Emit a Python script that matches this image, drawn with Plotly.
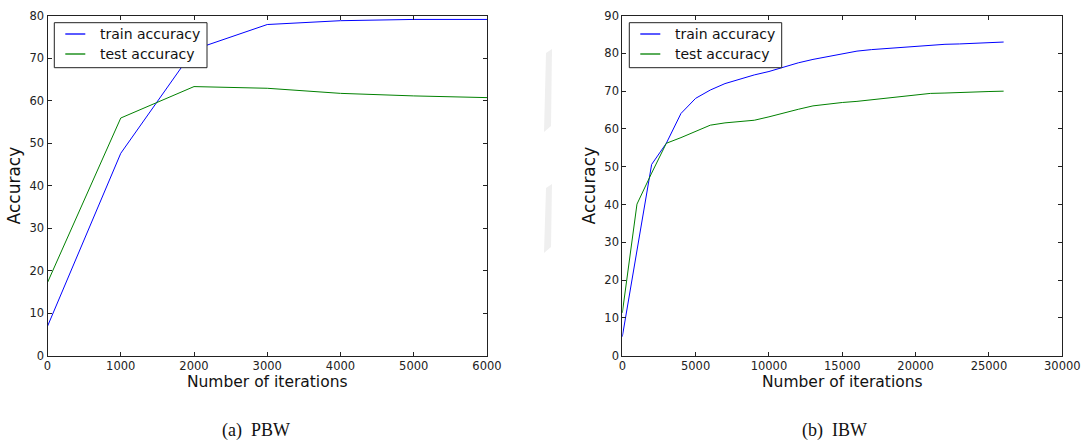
import plotly.graph_objects as go

# PBW run
pbw_iters = [0, 1000, 2000, 3000, 4000, 5000, 6000]
pbw_train = [6.9, 47.6, 72.0, 77.9, 78.8, 79.1, 79.1]
pbw_test = [17.2, 55.9, 63.3, 62.9, 61.7, 61.1, 60.7]

# IBW run
ibw_iters = [0, 1000, 2000, 3000, 4000, 5000, 6000, 7000, 8000, 9000,
             10000, 11000, 12000, 13000, 14000, 15000, 16000, 17000,
             18000, 19000, 20000, 21000, 22000, 23000, 24000, 25000, 26000]
ibw_train = [5.0, 27.8, 50.6, 56.2, 64.1, 68.1, 70.3, 72.0, 73.2, 74.3,
             75.2, 76.4, 77.5, 78.4, 79.2, 79.9, 80.6, 81.0, 81.3, 81.7,
             81.9, 82.2, 82.4, 82.5, 82.7, 82.8, 83.0]
ibw_test = [11.3, 40.1, 48.3, 56.2, 57.7, 59.3, 61.0, 61.6, 61.9, 62.3,
            63.2, 64.3, 65.2, 66.1, 66.6, 67.0, 67.3, 67.7, 68.1, 68.5,
            69.0, 69.4, 69.5, 69.7, 69.8, 69.9, 70.0]

series_names = ["train accuracy", "test accuracy"]
captions = ["(a)  PBW", "(b)  IBW"]

W, H = 1085, 441
BLUE, GREEN = "#0000ff", "#008000"
AXIS = "#222222"
SANS = "DejaVu Sans"


def px_x(v):
    return v / W


def px_y(v):
    return 1 - v / H


fig = go.Figure()

panels = [
    ("x", "y", pbw_iters, pbw_train, pbw_test),
    ("x2", "y2", ibw_iters, ibw_train, ibw_test),
]
for xa, ya, it, tr, te in panels:
    for name, vals, col in zip(series_names, [tr, te], [BLUE, GREEN]):
        fig.add_trace(go.Scatter(x=it, y=vals, mode="lines", name=name,
                                 line=dict(color=col, width=1),
                                 xaxis=xa, yaxis=ya, showlegend=False))

ydom = [px_y(355.6), px_y(15.6)]

common = dict(showline=True, linecolor=AXIS, linewidth=1, mirror="ticks",
              ticks="inside", ticklen=4, tickwidth=1, tickcolor=AXIS,
              showgrid=False, zeroline=False, automargin=False, tickformat="d",
              tickfont=dict(family=SANS, size=11.5, color="#222222"))

xtitle = dict(text="Number of iterations", font=dict(family=SANS, size=15.5, color="#111111"), standoff=2)
ytitle = dict(text="Accuracy", font=dict(family=SANS, size=17, color="#111111"), standoff=4)

fig.update_layout(
    width=W, height=H,
    margin=dict(l=0, r=0, t=0, b=0),
    paper_bgcolor="white", plot_bgcolor="white",
    xaxis=dict(domain=[px_x(47.5), px_x(487)], range=[0, 6000], dtick=1000,
               anchor="y", title=xtitle, **common),
    yaxis=dict(domain=ydom, range=[0, 80], dtick=10, anchor="x", title=ytitle, **common),
    xaxis2=dict(domain=[px_x(622.3), px_x(1062.3)], range=[0, 30000], dtick=5000,
                anchor="y2", title=xtitle, **common),
    yaxis2=dict(domain=ydom, range=[0, 90], dtick=10, anchor="x2", title=ytitle, **common),
    showlegend=False,
)

# legend boxes drawn in the upper-left corner of each panel
for left, right in [(54.3, 207.0), (629.3, 781.7)]:
    fig.add_shape(type="rect", xref="paper", yref="paper",
                  x0=px_x(left), x1=px_x(right), y0=px_y(67.7), y1=px_y(22.7),
                  fillcolor="white", line=dict(color="#222222", width=1))
    for name, col, yc in zip(series_names, [BLUE, GREEN], [34.0, 54.0]):
        fig.add_shape(type="line", xref="paper", yref="paper",
                      x0=px_x(left + 11), x1=px_x(left + 31), y0=px_y(yc), y1=px_y(yc),
                      line=dict(color=col, width=1.3))
        fig.add_annotation(text=name, x=px_x(left + 44), y=px_y(yc), xref="paper", yref="paper",
                           showarrow=False, xanchor="left", yanchor="middle",
                           font=dict(family=SANS, size=14, color="#111111"))

# sub-figure captions
for text, cx in zip(captions, [256, 834]):
    fig.add_annotation(text=text, x=px_x(cx), y=px_y(430.5), xref="paper", yref="paper",
                       showarrow=False, xanchor="center", yanchor="middle",
                       font=dict(family="Liberation Serif", size=18, color="#111111"))

# faint grey strokes between the panels
for top, bot in [(53, 132), (188, 253)]:
    fig.add_shape(type="path", xref="paper", yref="paper",
                  path=(f"M {px_x(546)} {px_y(top)} L {px_x(552)} {px_y(top - 4)} "
                        f"L {px_x(551)} {px_y(bot - 6)} L {px_x(544)} {px_y(bot)} Z"),
                  fillcolor="#efefef", line=dict(width=0), layer="below")

fig.write_html("out.html")
